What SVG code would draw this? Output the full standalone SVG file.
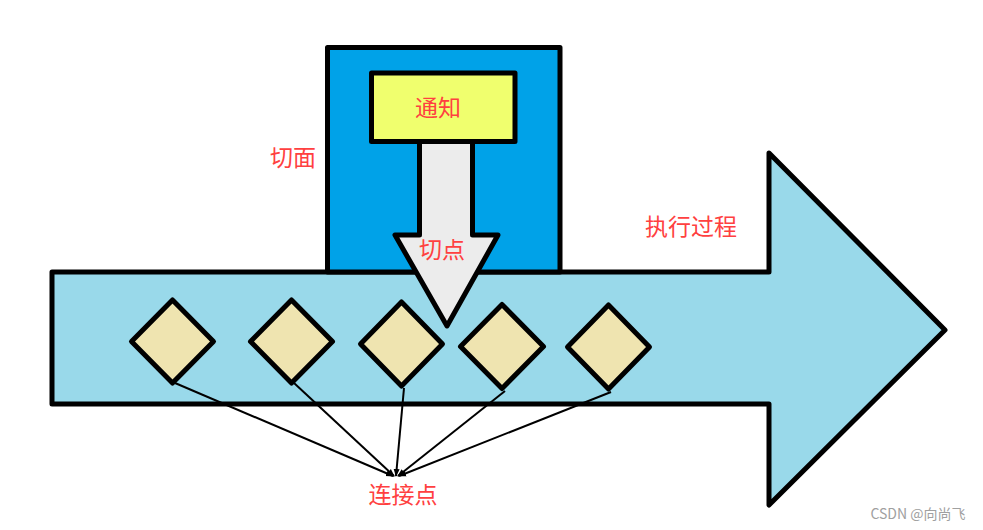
<svg xmlns="http://www.w3.org/2000/svg" width="983" height="530" viewBox="0 0 983 530">
<style>
.shape{stroke:#000;stroke-width:5;stroke-linejoin:round}
.lbl{font-family:"Noto Sans CJK SC","Liberation Sans",sans-serif;font-size:23px;fill:#FF4040;text-anchor:middle}
.dia{fill:#EFE4B0;stroke:#000;stroke-width:5;stroke-linejoin:round}
.conn{stroke:#000;stroke-width:2;fill:none}
</style>
<defs>
<marker id="ah" markerWidth="8" markerHeight="8" refX="7" refY="4" orient="auto" markerUnits="userSpaceOnUse">
<path d="M0,1 L8,4 L0,7 Z" fill="#000"/>
</marker>
</defs>
<rect width="983" height="530" fill="#fff"/>
<g id="process-arrow">
<polygon class="shape" fill="#99D9EA" points="52,272 769,272 769,153 945,330 769,505 769,404 52,404"/>
</g>
<g id="aspect">
<rect class="shape" fill="#00A2E8" x="327.5" y="47.5" width="232.5" height="224.5"/>
</g>
<g id="advice">
<rect class="shape" fill="#F0FF6E" x="371.5" y="73" width="143.5" height="68.5"/>
<text class="lbl" x="438" y="116">通知</text>
</g>
<g id="pointcut">
<polygon class="shape" fill="#ECECEC" points="419.5,141.5 472.5,141.5 472.5,235 498,235 447,326 395,235 419.5,235"/>
<text class="lbl" x="442" y="258">切点</text>
</g>
<g id="jp1"><polygon class="dia" points="172.5,300 213.5,341.5 172.5,383 131.5,341.5"/></g>
<g id="jp2"><polygon class="dia" points="291.5,300 332.5,341.5 291.5,383 250.5,341.5"/></g>
<g id="jp3"><polygon class="dia" points="401.5,302 442.5,344 401.5,386 360.5,344"/></g>
<g id="jp4"><polygon class="dia" points="502,304.5 543.5,346.5 502,388.5 460.5,346.5"/></g>
<g id="jp5"><polygon class="dia" points="608.5,305 649.5,347 608.5,389 567.5,347"/></g>
<g id="connectors">
<line class="conn" x1="175" y1="383" x2="393" y2="476" marker-end="url(#ah)"/>
<line class="conn" x1="294" y1="383" x2="394" y2="476" marker-end="url(#ah)"/>
<line class="conn" x1="404" y1="388" x2="396" y2="476" marker-end="url(#ah)"/>
<line class="conn" x1="505" y1="391" x2="398" y2="476" marker-end="url(#ah)"/>
<line class="conn" x1="611" y1="392" x2="399" y2="476" marker-end="url(#ah)"/>
</g>
<g id="labels">
<text class="lbl" x="293" y="166">切面</text>
<text class="lbl" x="691" y="235">执行过程</text>
<text class="lbl" x="403" y="503">连接点</text>
<text x="918" y="519" font-family="Noto Sans CJK SC,Liberation Sans,sans-serif" font-size="14" fill="#A0A0A0" text-anchor="middle">CSDN @向尚飞</text>
</g>
</svg>
